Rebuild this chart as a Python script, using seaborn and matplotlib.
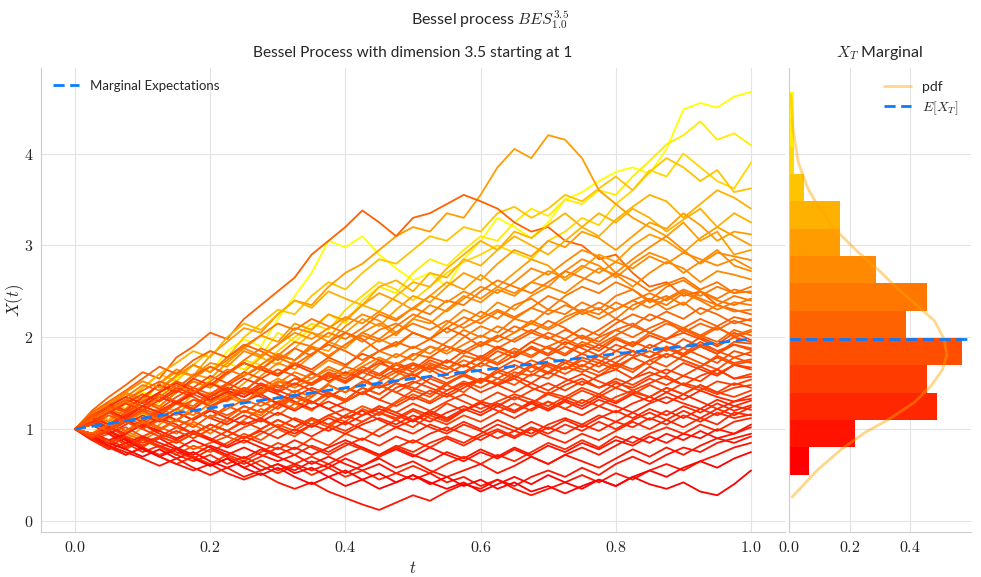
import numpy as np
import pandas as pd
import matplotlib
matplotlib.use("Agg")
import matplotlib.pyplot as plt
from matplotlib.ticker import FuncFormatter
import seaborn as sns

# time grid of the sampled paths (41 steps on [0, 1])
times = np.linspace(0.0, 1.0, 41)

# path values (each row = one path at the 41 times)
path_values = [
    [1.00, 1.12, 1.05, 1.28, 1.40, 1.35, 1.55, 1.70, 1.62, 1.85, 1.98, 1.90, 2.20, 2.45, 2.70, 3.05, 2.98, 3.10, 2.90, 2.75, 2.62, 2.70, 2.55, 2.85, 3.05, 3.30, 3.20, 3.08, 3.25, 3.50, 3.58, 3.70, 3.80, 3.85, 3.78, 4.05, 4.48, 4.55, 4.50, 4.62, 4.67],
    [1.00, 0.95, 1.10, 1.22, 1.15, 1.30, 1.45, 1.38, 1.55, 1.72, 1.65, 1.80, 2.05, 1.95, 2.10, 2.25, 2.15, 2.40, 2.55, 2.48, 2.70, 2.85, 2.78, 2.95, 3.10, 3.05, 3.25, 3.40, 3.32, 3.50, 3.45, 3.60, 3.55, 3.75, 3.92, 4.10, 4.20, 4.35, 4.15, 4.22, 4.09],
    [1.00, 1.08, 0.98, 1.15, 1.30, 1.25, 1.40, 1.52, 1.45, 1.60, 1.75, 1.70, 1.85, 2.00, 2.15, 2.08, 2.30, 2.45, 2.60, 2.52, 2.40, 2.55, 2.70, 2.82, 2.90, 3.00, 2.92, 2.85, 3.05, 3.15, 3.30, 3.22, 3.45, 3.60, 3.82, 3.75, 4.00, 3.85, 3.70, 3.62, 3.90],
    [1.00, 1.15, 1.30, 1.22, 1.45, 1.60, 1.52, 1.70, 1.85, 1.78, 2.00, 2.15, 2.30, 2.25, 2.45, 2.60, 2.52, 2.70, 2.85, 2.80, 2.95, 3.10, 3.05, 3.20, 3.15, 3.35, 3.42, 3.30, 3.40, 3.55, 3.48, 3.62, 3.75, 3.60, 3.80, 3.95, 3.85, 3.70, 3.82, 3.58, 3.62],
    [1.00, 1.10, 1.25, 1.38, 1.30, 1.50, 1.62, 1.58, 1.80, 1.95, 2.10, 2.05, 2.25, 2.40, 2.35, 2.55, 2.70, 2.80, 2.95, 3.10, 3.20, 3.15, 3.35, 3.30, 3.55, 3.85, 4.05, 3.95, 4.20, 4.15, 3.95, 3.60, 3.45, 3.30, 3.20, 3.10, 3.25, 3.05, 3.15, 2.90, 2.95],
    [1.00, 1.20, 1.35, 1.48, 1.62, 1.55, 1.78, 1.90, 2.05, 1.98, 2.20, 2.35, 2.50, 2.65, 2.90, 3.05, 3.20, 3.38, 3.25, 3.10, 3.30, 3.35, 3.45, 3.55, 3.48, 3.40, 3.25, 3.15, 3.20, 3.05, 3.00, 2.85, 2.90, 2.70, 2.55, 2.60, 2.45, 2.50, 2.35, 2.30, 2.25],
    [1.00, 0.92, 1.05, 1.18, 1.10, 1.25, 1.20, 1.38, 1.50, 1.45, 1.62, 1.78, 1.70, 1.88, 2.05, 2.00, 2.20, 2.35, 2.28, 2.45, 2.60, 2.55, 2.75, 2.90, 3.05, 2.95, 3.15, 3.08, 3.22, 3.35, 3.20, 3.10, 3.28, 3.42, 3.55, 3.48, 3.30, 3.45, 3.60, 3.52, 3.40],
    [1.00, 1.18, 1.10, 1.30, 1.45, 1.60, 1.72, 1.85, 1.78, 2.00, 2.15, 2.08, 2.25, 2.40, 2.32, 2.50, 2.42, 2.35, 2.55, 2.62, 2.50, 2.70, 2.65, 2.85, 2.78, 2.95, 3.10, 3.00, 2.90, 3.05, 3.20, 3.35, 3.25, 3.40, 3.30, 3.15, 3.28, 3.40, 3.20, 3.35, 3.25],
    [1.00, 1.05, 0.95, 0.88, 1.02, 1.15, 1.08, 1.25, 1.40, 1.35, 1.50, 1.65, 1.58, 1.75, 1.90, 1.85, 2.05, 2.20, 2.12, 2.30, 2.45, 2.38, 2.55, 2.70, 2.62, 2.80, 2.95, 2.88, 3.05, 2.98, 3.15, 3.08, 2.95, 3.10, 3.25, 3.18, 3.35, 3.22, 3.05, 3.15, 3.12],
    [1.00, 1.12, 1.28, 1.20, 1.35, 1.48, 1.42, 1.60, 1.55, 1.72, 1.88, 2.02, 1.95, 2.15, 2.08, 2.25, 2.18, 2.35, 2.48, 2.40, 2.30, 2.45, 2.60, 2.52, 2.68, 2.55, 2.70, 2.85, 2.78, 2.62, 2.75, 2.90, 2.82, 3.00, 3.12, 3.05, 2.92, 3.08, 3.20, 3.10, 3.00],
    [1.00, 0.90, 1.02, 0.95, 1.10, 1.22, 1.15, 1.32, 1.28, 1.45, 1.40, 1.58, 1.72, 1.65, 1.80, 1.95, 1.88, 2.05, 2.15, 2.02, 2.20, 2.35, 2.28, 2.42, 2.55, 2.48, 2.60, 2.75, 2.68, 2.82, 2.95, 2.88, 2.70, 2.85, 2.98, 3.10, 2.95, 2.80, 2.92, 2.88, 2.84],
    [1.00, 1.15, 1.25, 1.40, 1.32, 1.50, 1.65, 1.58, 1.72, 1.68, 1.85, 1.78, 1.92, 2.10, 2.05, 1.95, 2.12, 2.25, 2.18, 2.05, 2.20, 2.15, 2.30, 2.45, 2.38, 2.52, 2.45, 2.60, 2.55, 2.72, 2.85, 2.78, 2.65, 2.80, 2.92, 2.85, 2.70, 2.82, 2.95, 2.78, 2.72],
    [1.00, 0.95, 0.85, 0.98, 0.90, 1.05, 1.18, 1.10, 1.22, 1.35, 1.28, 1.45, 1.55, 1.48, 1.62, 1.75, 1.68, 1.85, 1.98, 1.90, 2.05, 1.98, 2.15, 2.30, 2.22, 2.38, 2.30, 2.45, 2.55, 2.48, 2.62, 2.75, 2.68, 2.55, 2.70, 2.82, 2.75, 2.60, 2.72, 2.68, 2.63],
    [1.00, 1.10, 1.22, 1.15, 1.30, 1.25, 1.40, 1.52, 1.45, 1.60, 1.72, 1.65, 1.80, 1.75, 1.92, 2.05, 1.98, 2.10, 2.25, 2.18, 2.32, 2.25, 2.40, 2.35, 2.50, 2.62, 2.55, 2.48, 2.60, 2.72, 2.65, 2.58, 2.70, 2.62, 2.50, 2.58, 2.65, 2.52, 2.60, 2.48, 2.55],
    [1.00, 0.92, 0.85, 0.95, 0.88, 0.98, 1.10, 1.05, 0.95, 1.08, 1.20, 1.15, 1.30, 1.42, 1.35, 1.50, 1.62, 1.55, 1.70, 1.82, 1.75, 1.90, 1.85, 2.00, 2.12, 2.05, 2.20, 2.15, 2.30, 2.25, 2.38, 2.30, 2.45, 2.52, 2.40, 2.55, 2.62, 2.50, 2.42, 2.52, 2.48],
    [1.00, 1.15, 1.08, 1.22, 1.35, 1.48, 1.40, 1.55, 1.68, 1.60, 1.75, 1.88, 1.80, 1.95, 1.90, 1.78, 1.92, 2.05, 1.98, 2.12, 2.25, 2.18, 2.05, 2.15, 2.28, 2.20, 2.35, 2.42, 2.30, 2.45, 2.55, 2.48, 2.60, 2.52, 2.38, 2.45, 2.35, 2.50, 2.40, 2.35, 2.42],
    [1.00, 1.05, 1.18, 1.10, 1.02, 1.15, 1.28, 1.22, 1.35, 1.30, 1.42, 1.38, 1.50, 1.62, 1.55, 1.68, 1.60, 1.72, 1.85, 1.78, 1.90, 1.82, 1.95, 2.08, 2.00, 2.12, 2.05, 2.18, 2.10, 2.22, 2.30, 2.25, 2.38, 2.30, 2.42, 2.35, 2.48, 2.40, 2.30, 2.38, 2.35],
    [1.00, 1.12, 1.25, 1.35, 1.48, 1.42, 1.58, 1.70, 1.62, 1.78, 1.90, 2.02, 2.15, 2.08, 2.20, 2.12, 2.05, 1.95, 2.08, 2.15, 2.05, 1.98, 2.10, 2.22, 2.15, 2.28, 2.20, 2.32, 2.45, 2.38, 2.25, 2.32, 2.20, 2.35, 2.42, 2.30, 2.38, 2.25, 2.35, 2.28, 2.30],
    [1.00, 0.90, 0.98, 0.88, 0.80, 0.92, 0.85, 0.95, 1.05, 0.98, 1.10, 1.22, 1.15, 1.28, 1.20, 1.35, 1.45, 1.38, 1.52, 1.62, 1.55, 1.70, 1.65, 1.80, 1.75, 1.88, 1.82, 1.95, 2.05, 1.98, 2.10, 2.02, 2.15, 2.25, 2.18, 2.28, 2.20, 2.32, 2.25, 2.15, 2.20],
    [1.00, 1.18, 1.30, 1.42, 1.55, 1.68, 1.60, 1.75, 1.85, 1.78, 1.92, 1.85, 1.75, 1.88, 1.80, 1.95, 2.05, 1.98, 1.85, 1.92, 2.05, 1.98, 2.10, 2.02, 1.90, 2.00, 2.12, 2.05, 2.18, 2.10, 1.98, 2.08, 2.20, 2.12, 2.25, 2.18, 2.05, 2.15, 2.08, 2.18, 2.12],
    [1.00, 1.08, 1.00, 1.12, 1.25, 1.18, 1.30, 1.25, 1.38, 1.32, 1.45, 1.40, 1.52, 1.48, 1.60, 1.55, 1.68, 1.62, 1.75, 1.70, 1.82, 1.78, 1.90, 1.85, 1.95, 1.88, 1.98, 2.08, 2.00, 1.92, 2.02, 1.95, 2.08, 2.15, 2.05, 1.98, 2.10, 2.02, 2.12, 2.00, 2.06],
    [1.00, 0.95, 1.05, 0.98, 1.10, 1.02, 0.95, 1.08, 1.00, 1.12, 1.25, 1.18, 1.30, 1.22, 1.35, 1.48, 1.40, 1.52, 1.45, 1.58, 1.70, 1.62, 1.75, 1.68, 1.80, 1.72, 1.85, 1.78, 1.90, 1.82, 1.95, 1.88, 2.00, 1.92, 2.05, 1.98, 2.10, 2.02, 1.95, 2.08, 2.02],
    [1.00, 1.10, 1.20, 1.12, 1.05, 1.18, 1.28, 1.38, 1.30, 1.42, 1.35, 1.48, 1.42, 1.55, 1.50, 1.62, 1.55, 1.68, 1.60, 1.72, 1.65, 1.78, 1.72, 1.85, 1.78, 1.90, 1.82, 1.95, 1.88, 1.80, 1.92, 1.85, 1.98, 1.90, 2.02, 1.95, 1.88, 2.00, 1.92, 2.05, 1.97],
    [1.00, 0.88, 0.95, 0.82, 0.90, 0.80, 0.88, 0.78, 0.85, 0.92, 0.85, 0.95, 1.05, 0.98, 1.10, 1.02, 1.15, 1.25, 1.18, 1.30, 1.42, 1.35, 1.48, 1.40, 1.55, 1.50, 1.62, 1.58, 1.70, 1.65, 1.78, 1.72, 1.85, 1.80, 1.92, 1.85, 1.98, 1.90, 1.82, 1.95, 1.93],
    [1.00, 1.15, 1.05, 1.18, 1.30, 1.40, 1.52, 1.45, 1.58, 1.50, 1.62, 1.55, 1.45, 1.55, 1.48, 1.60, 1.52, 1.65, 1.58, 1.70, 1.62, 1.75, 1.68, 1.60, 1.72, 1.85, 1.78, 1.90, 1.82, 1.95, 1.88, 1.80, 1.92, 1.85, 1.78, 1.90, 1.82, 1.95, 1.85, 1.92, 1.88],
    [1.00, 1.05, 0.95, 1.02, 0.92, 1.00, 1.10, 1.02, 1.15, 1.08, 1.20, 1.12, 1.25, 1.35, 1.28, 1.40, 1.32, 1.45, 1.38, 1.50, 1.42, 1.55, 1.48, 1.60, 1.52, 1.65, 1.58, 1.70, 1.62, 1.75, 1.68, 1.80, 1.72, 1.85, 1.78, 1.88, 1.80, 1.92, 1.85, 1.78, 1.84],
    [1.00, 1.12, 1.22, 1.32, 1.25, 1.38, 1.30, 1.42, 1.35, 1.48, 1.58, 1.68, 1.60, 1.72, 1.65, 1.78, 1.70, 1.82, 1.75, 1.62, 1.70, 1.65, 1.55, 1.62, 1.72, 1.65, 1.75, 1.68, 1.78, 1.72, 1.82, 1.75, 1.68, 1.78, 1.85, 1.78, 1.88, 1.80, 1.72, 1.85, 1.80],
    [1.00, 0.92, 0.85, 0.78, 0.88, 0.80, 0.72, 0.82, 0.75, 0.85, 0.95, 0.88, 1.00, 0.92, 1.05, 1.15, 1.08, 1.22, 1.15, 1.28, 1.38, 1.30, 1.42, 1.52, 1.45, 1.55, 1.48, 1.60, 1.55, 1.68, 1.62, 1.72, 1.65, 1.78, 1.70, 1.82, 1.75, 1.68, 1.80, 1.72, 1.76],
    [1.00, 1.08, 1.18, 1.10, 1.22, 1.15, 1.28, 1.20, 1.12, 1.25, 1.18, 1.30, 1.22, 1.35, 1.28, 1.40, 1.32, 1.45, 1.38, 1.50, 1.45, 1.38, 1.50, 1.58, 1.50, 1.62, 1.55, 1.68, 1.60, 1.72, 1.65, 1.58, 1.70, 1.62, 1.75, 1.68, 1.80, 1.72, 1.65, 1.78, 1.72],
    [1.00, 1.10, 1.02, 1.15, 1.08, 1.20, 1.30, 1.22, 1.35, 1.45, 1.38, 1.50, 1.42, 1.35, 1.45, 1.38, 1.30, 1.40, 1.32, 1.45, 1.52, 1.45, 1.38, 1.48, 1.55, 1.48, 1.58, 1.50, 1.62, 1.55, 1.48, 1.58, 1.65, 1.55, 1.68, 1.60, 1.72, 1.65, 1.58, 1.70, 1.67],
    [1.00, 0.90, 0.82, 0.90, 0.80, 0.72, 0.80, 0.70, 0.62, 0.72, 0.65, 0.75, 0.85, 0.78, 0.90, 0.82, 0.95, 0.88, 1.00, 1.10, 1.02, 1.15, 1.08, 1.20, 1.30, 1.25, 1.35, 1.28, 1.40, 1.35, 1.45, 1.38, 1.50, 1.45, 1.55, 1.48, 1.58, 1.52, 1.65, 1.55, 1.60],
    [1.00, 1.15, 1.28, 1.20, 1.35, 1.48, 1.40, 1.55, 1.48, 1.62, 1.72, 1.65, 1.58, 1.70, 1.62, 1.52, 1.62, 1.55, 1.45, 1.52, 1.60, 1.50, 1.42, 1.50, 1.40, 1.48, 1.55, 1.45, 1.38, 1.48, 1.55, 1.45, 1.52, 1.42, 1.50, 1.58, 1.48, 1.42, 1.52, 1.48, 1.54],
    [1.00, 0.95, 1.02, 0.92, 0.85, 0.92, 0.85, 0.95, 0.88, 0.98, 1.08, 1.00, 1.10, 1.02, 1.12, 1.05, 1.15, 1.08, 1.18, 1.12, 1.22, 1.15, 1.28, 1.20, 1.30, 1.25, 1.35, 1.28, 1.38, 1.32, 1.42, 1.35, 1.45, 1.38, 1.48, 1.40, 1.50, 1.45, 1.38, 1.45, 1.48],
    [1.00, 1.08, 1.18, 1.28, 1.38, 1.30, 1.42, 1.35, 1.25, 1.32, 1.42, 1.35, 1.28, 1.38, 1.30, 1.22, 1.30, 1.40, 1.32, 1.25, 1.35, 1.28, 1.38, 1.30, 1.22, 1.30, 1.38, 1.32, 1.25, 1.35, 1.28, 1.38, 1.30, 1.40, 1.35, 1.45, 1.38, 1.48, 1.40, 1.35, 1.42],
    [1.00, 0.92, 1.00, 1.10, 1.02, 1.12, 1.05, 0.95, 1.05, 0.98, 0.90, 0.98, 0.90, 1.00, 0.92, 1.02, 0.95, 1.05, 1.12, 1.05, 1.15, 1.08, 1.18, 1.25, 1.18, 1.28, 1.20, 1.30, 1.22, 1.32, 1.25, 1.35, 1.28, 1.38, 1.30, 1.40, 1.32, 1.42, 1.35, 1.30, 1.37],
    [1.00, 1.10, 1.20, 1.12, 1.25, 1.35, 1.28, 1.40, 1.50, 1.42, 1.35, 1.45, 1.38, 1.30, 1.22, 1.30, 1.22, 1.15, 1.25, 1.18, 1.10, 1.20, 1.12, 1.22, 1.15, 1.25, 1.18, 1.28, 1.20, 1.30, 1.22, 1.32, 1.25, 1.18, 1.28, 1.35, 1.28, 1.22, 1.32, 1.25, 1.31],
    [1.00, 0.90, 0.80, 0.72, 0.80, 0.70, 0.62, 0.70, 0.60, 0.68, 0.58, 0.66, 0.55, 0.62, 0.70, 0.62, 0.72, 0.80, 0.72, 0.82, 0.75, 0.85, 0.92, 0.85, 0.95, 1.05, 0.98, 1.08, 1.00, 1.10, 1.02, 1.12, 1.20, 1.12, 1.22, 1.15, 1.25, 1.18, 1.28, 1.20, 1.26],
    [1.00, 1.05, 0.95, 1.05, 1.15, 1.08, 1.18, 1.10, 1.20, 1.12, 1.05, 1.12, 1.02, 0.95, 1.05, 0.98, 1.08, 1.00, 0.92, 1.02, 0.95, 1.05, 0.98, 1.08, 1.00, 1.10, 1.02, 0.95, 1.05, 1.12, 1.05, 1.15, 1.08, 1.18, 1.10, 1.20, 1.12, 1.22, 1.15, 1.25, 1.21],
    [1.00, 1.12, 1.25, 1.35, 1.28, 1.40, 1.50, 1.42, 1.32, 1.40, 1.30, 1.38, 1.28, 1.20, 1.30, 1.22, 1.12, 1.20, 1.10, 1.02, 1.10, 1.02, 0.95, 1.05, 0.98, 0.90, 0.98, 0.92, 1.02, 0.95, 1.05, 0.98, 1.08, 1.02, 1.12, 1.05, 1.15, 1.08, 1.18, 1.12, 1.16],
    [1.00, 0.88, 0.78, 0.85, 0.75, 0.82, 0.72, 0.65, 0.72, 0.62, 0.70, 0.60, 0.52, 0.60, 0.50, 0.58, 0.48, 0.55, 0.45, 0.52, 0.60, 0.52, 0.62, 0.70, 0.62, 0.72, 0.65, 0.75, 0.85, 0.78, 0.88, 0.80, 0.92, 0.85, 0.95, 1.02, 0.95, 1.05, 0.98, 1.08, 1.12],
    [1.00, 0.95, 0.88, 0.95, 1.05, 0.98, 0.90, 0.98, 0.88, 0.80, 0.88, 0.80, 0.72, 0.80, 0.72, 0.80, 0.88, 0.80, 0.72, 0.80, 0.72, 0.65, 0.75, 0.68, 0.78, 0.70, 0.80, 0.72, 0.82, 0.75, 0.85, 0.78, 0.88, 0.82, 0.92, 0.85, 0.95, 0.90, 1.00, 0.95, 1.05],
    [1.00, 0.90, 0.82, 0.72, 0.80, 0.70, 0.62, 0.55, 0.62, 0.52, 0.45, 0.52, 0.42, 0.35, 0.42, 0.32, 0.25, 0.18, 0.12, 0.20, 0.28, 0.22, 0.32, 0.40, 0.35, 0.45, 0.38, 0.48, 0.55, 0.48, 0.58, 0.50, 0.62, 0.70, 0.62, 0.72, 0.80, 0.75, 0.85, 0.90, 0.95],
    [1.00, 1.05, 0.95, 0.85, 0.92, 0.85, 0.78, 0.88, 0.80, 0.72, 0.80, 0.72, 0.65, 0.72, 0.62, 0.70, 0.62, 0.55, 0.62, 0.52, 0.45, 0.52, 0.42, 0.48, 0.38, 0.45, 0.35, 0.28, 0.35, 0.42, 0.50, 0.42, 0.52, 0.45, 0.55, 0.62, 0.55, 0.65, 0.72, 0.80, 0.85],
    [1.00, 0.92, 0.85, 0.78, 0.70, 0.78, 0.68, 0.75, 0.65, 0.58, 0.65, 0.55, 0.62, 0.52, 0.58, 0.48, 0.55, 0.45, 0.52, 0.42, 0.50, 0.40, 0.48, 0.38, 0.45, 0.35, 0.42, 0.32, 0.38, 0.30, 0.38, 0.45, 0.38, 0.48, 0.40, 0.35, 0.42, 0.32, 0.28, 0.40, 0.55],
    [1.00, 0.90, 0.98, 0.88, 0.78, 0.70, 0.78, 0.68, 0.60, 0.68, 0.58, 0.50, 0.58, 0.48, 0.40, 0.48, 0.38, 0.45, 0.35, 0.42, 0.50, 0.42, 0.35, 0.42, 0.32, 0.40, 0.48, 0.40, 0.50, 0.42, 0.35, 0.45, 0.38, 0.48, 0.55, 0.48, 0.58, 0.65, 0.58, 0.68, 0.75],
    [1.00, 1.08, 0.98, 0.90, 0.82, 0.90, 0.80, 0.72, 0.82, 0.75, 0.68, 0.78, 0.70, 0.62, 0.55, 0.62, 0.52, 0.60, 0.68, 0.58, 0.65, 0.55, 0.48, 0.55, 0.62, 0.52, 0.60, 0.70, 0.62, 0.72, 0.65, 0.58, 0.68, 0.78, 0.70, 0.80, 0.72, 0.82, 0.90, 0.85, 0.92],
    [1.00, 1.15, 1.28, 1.40, 1.52, 1.45, 1.58, 1.70, 1.62, 1.75, 1.88, 1.80, 1.92, 2.05, 1.98, 2.10, 2.22, 2.15, 2.28, 2.20, 2.32, 2.45, 2.38, 2.50, 2.42, 2.55, 2.48, 2.60, 2.72, 2.65, 2.78, 2.70, 2.82, 2.75, 2.88, 2.80, 2.92, 2.85, 2.78, 2.85, 2.75],
    [1.00, 0.92, 0.82, 0.75, 0.68, 0.60, 0.68, 0.58, 0.50, 0.58, 0.48, 0.55, 0.62, 0.55, 0.65, 0.58, 0.68, 0.60, 0.70, 0.78, 0.70, 0.80, 0.72, 0.65, 0.75, 0.68, 0.78, 0.70, 0.62, 0.72, 0.80, 0.72, 0.82, 0.92, 0.85, 0.95, 0.88, 0.98, 0.90, 0.95, 1.02],
    [1.00, 1.10, 1.02, 0.95, 1.05, 0.95, 0.88, 0.98, 0.90, 0.82, 0.92, 0.85, 0.78, 0.88, 0.80, 0.72, 0.82, 0.90, 0.82, 0.92, 0.85, 0.95, 1.02, 0.95, 0.88, 0.98, 0.90, 1.00, 0.92, 0.85, 0.95, 0.88, 0.98, 1.08, 1.00, 1.10, 1.02, 1.12, 1.05, 1.18, 1.15],
    [1.00, 1.10, 1.20, 1.30, 1.22, 1.35, 1.48, 1.40, 1.52, 1.65, 1.58, 1.70, 1.82, 1.75, 1.88, 1.80, 1.92, 2.02, 1.95, 2.05, 2.15, 2.08, 2.18, 2.10, 2.20, 2.30, 2.22, 2.32, 2.25, 2.35, 2.28, 2.38, 2.30, 2.40, 2.48, 2.40, 2.50, 2.42, 2.35, 2.45, 2.40],
    [1.00, 0.95, 0.88, 0.80, 0.90, 0.82, 0.75, 0.68, 0.78, 0.70, 0.62, 0.70, 0.80, 0.72, 0.82, 0.75, 0.85, 0.78, 0.70, 0.80, 0.88, 0.80, 0.90, 0.82, 0.92, 1.00, 0.92, 1.02, 0.95, 1.05, 0.98, 1.08, 1.00, 1.10, 1.18, 1.10, 1.20, 1.12, 1.22, 1.15, 1.24],
    [1.00, 1.12, 1.05, 1.15, 1.25, 1.18, 1.10, 1.20, 1.12, 1.05, 1.15, 1.08, 1.18, 1.10, 1.02, 1.12, 1.05, 1.15, 1.22, 1.15, 1.08, 1.18, 1.10, 1.20, 1.28, 1.20, 1.12, 1.22, 1.30, 1.22, 1.15, 1.25, 1.18, 1.28, 1.35, 1.28, 1.38, 1.30, 1.22, 1.30, 1.33],
    [1.00, 1.05, 0.98, 1.08, 1.18, 1.10, 1.22, 1.15, 1.28, 1.38, 1.30, 1.42, 1.52, 1.45, 1.55, 1.65, 1.58, 1.68, 1.78, 1.70, 1.80, 1.90, 1.82, 1.92, 2.02, 1.95, 2.05, 2.15, 2.08, 2.18, 2.28, 2.20, 2.30, 2.40, 2.32, 2.42, 2.52, 2.45, 2.55, 2.48, 2.50],
    [1.00, 0.90, 0.98, 1.08, 1.00, 0.92, 1.02, 0.95, 1.05, 0.98, 0.90, 1.00, 1.10, 1.02, 1.12, 1.05, 0.98, 1.08, 1.18, 1.10, 1.20, 1.12, 1.05, 1.15, 1.08, 1.18, 1.28, 1.20, 1.30, 1.22, 1.32, 1.25, 1.35, 1.42, 1.35, 1.45, 1.38, 1.48, 1.40, 1.50, 1.45],
    [1.00, 1.08, 1.18, 1.28, 1.20, 1.32, 1.45, 1.38, 1.50, 1.42, 1.55, 1.48, 1.40, 1.50, 1.42, 1.35, 1.45, 1.38, 1.48, 1.40, 1.32, 1.42, 1.35, 1.45, 1.55, 1.48, 1.40, 1.50, 1.42, 1.52, 1.60, 1.52, 1.45, 1.55, 1.62, 1.55, 1.48, 1.58, 1.65, 1.55, 1.57],
    [1.00, 1.12, 1.22, 1.32, 1.42, 1.52, 1.45, 1.58, 1.68, 1.60, 1.72, 1.65, 1.78, 1.70, 1.82, 1.92, 1.85, 1.75, 1.85, 1.95, 1.88, 1.98, 1.90, 1.82, 1.92, 2.02, 1.95, 2.05, 1.98, 2.08, 2.00, 1.92, 2.02, 2.12, 2.05, 2.15, 2.08, 2.00, 2.10, 2.02, 2.08],
    [1.00, 0.95, 0.85, 0.92, 0.82, 0.90, 0.98, 0.90, 1.00, 0.92, 1.02, 1.10, 1.02, 1.12, 1.05, 1.15, 1.22, 1.15, 1.25, 1.18, 1.28, 1.20, 1.30, 1.38, 1.30, 1.40, 1.32, 1.42, 1.50, 1.42, 1.52, 1.45, 1.55, 1.48, 1.58, 1.65, 1.58, 1.68, 1.60, 1.70, 1.65],
    [1.00, 1.15, 1.25, 1.18, 1.30, 1.22, 1.35, 1.45, 1.38, 1.50, 1.42, 1.55, 1.65, 1.58, 1.48, 1.58, 1.50, 1.62, 1.72, 1.65, 1.58, 1.68, 1.60, 1.70, 1.62, 1.55, 1.65, 1.75, 1.68, 1.60, 1.70, 1.62, 1.72, 1.65, 1.75, 1.82, 1.75, 1.68, 1.78, 1.70, 1.74],
    [1.00, 0.95, 1.05, 0.98, 1.08, 1.00, 1.10, 1.20, 1.12, 1.22, 1.32, 1.25, 1.35, 1.28, 1.38, 1.48, 1.40, 1.50, 1.60, 1.52, 1.62, 1.72, 1.65, 1.75, 1.68, 1.78, 1.88, 1.80, 1.90, 1.98, 1.90, 2.00, 2.08, 2.00, 2.10, 2.18, 2.10, 2.20, 2.12, 2.22, 2.18],
    [1.00, 1.05, 1.15, 1.08, 1.00, 1.10, 1.02, 1.12, 1.22, 1.15, 1.25, 1.18, 1.28, 1.35, 1.28, 1.38, 1.30, 1.40, 1.48, 1.40, 1.50, 1.58, 1.50, 1.60, 1.52, 1.62, 1.70, 1.62, 1.72, 1.65, 1.75, 1.68, 1.78, 1.85, 1.78, 1.88, 1.80, 1.90, 1.82, 1.92, 1.86],
    [1.00, 0.92, 1.00, 1.10, 1.20, 1.12, 1.22, 1.32, 1.25, 1.35, 1.45, 1.38, 1.48, 1.40, 1.50, 1.60, 1.52, 1.62, 1.55, 1.65, 1.72, 1.65, 1.75, 1.68, 1.78, 1.70, 1.80, 1.88, 1.80, 1.90, 1.82, 1.92, 1.85, 1.95, 1.88, 1.98, 2.05, 1.98, 1.90, 2.00, 1.95],
]

# marginal expectation E[X(t)]
expect_times = [0.0, 0.1, 0.2, 0.3, 0.4, 0.5, 0.6, 0.7, 0.8, 0.9, 1.0]
expect_values = [1.00, 1.12, 1.23, 1.34, 1.45, 1.55, 1.64, 1.73, 1.82, 1.90, 1.98]

# histogram of X_T (density)
hist_edges = [0.504, 0.802, 1.099, 1.397, 1.694, 1.992, 2.289, 2.587, 2.884,
              3.182, 3.479, 3.777, 4.074, 4.372, 4.670]
hist_density = [0.067, 0.218, 0.487, 0.454, 0.571, 0.387, 0.454, 0.286,
                0.168, 0.168, 0.050, 0.017, 0.017, 0.017]

# pdf of X_T
pdf_x = [0.26, 0.37, 0.56, 0.78, 0.96, 1.10, 1.29, 1.47, 1.65, 1.81, 1.98,
         2.18, 2.34, 2.53, 2.74, 2.93, 3.18, 3.43, 3.62, 3.91, 4.27, 4.64]
pdf_y = [0.011, 0.042, 0.096, 0.173, 0.249, 0.326, 0.413, 0.468, 0.506, 0.520, 0.511,
         0.479, 0.424, 0.358, 0.293, 0.227, 0.151, 0.096, 0.063, 0.031, 0.014, 0.007]
expect_T = 1.98

sns.set_style("whitegrid", {"axes.edgecolor": "#cccccc", "grid.color": "#e3e3e3",
                            "axes.linewidth": 1.2})
plt.rcParams['font.family'] = ['Lato', 'DejaVu Sans']
plt.rcParams['mathtext.fontset'] = 'cm'

cmap = plt.colormaps['autumn']
n_bins = len(hist_density)
col = np.linspace(0, 1, n_bins)
blue = '#0a7dff'

fig = plt.figure(figsize=(9.81, 5.77), dpi=100)
ax1 = fig.add_axes([0.042, 0.078, 0.758, 0.804])
ax2 = fig.add_axes([0.804, 0.078, 0.186, 0.804], sharey=ax1)

# paths, coloured by the bin of their last value
for p in path_values:
    b = int(np.clip(np.digitize(p[-1], hist_edges) - 1, 0, n_bins - 1))
    ax1.plot(times, p, color=cmap(col[b]), lw=1.3)

df_exp = pd.DataFrame({"t": expect_times, "e": expect_values})
sns.lineplot(data=df_exp, x="t", y="e", ax=ax1, color=blue, lw=2,
             linestyle=(0, (4, 2)), label="Marginal Expectations", zorder=5)

ax1.set_xlim(-0.05, 1.05)
ax1.set_ylim(-0.12, 4.93)
ax1.set_xlabel("$t$", fontsize=12)
ax1.set_ylabel("$X(t)$", fontsize=12)
ax1.yaxis.set_label_coords(-0.021, 0.5)
ax1.set_title("Bessel Process with dimension 3.5 starting at 1", fontsize=11.2, pad=8)
ax1.set_xticks([0, 0.2, 0.4, 0.6, 0.8, 1.0])
ax1.set_yticks([0, 1, 2, 3, 4])
ax1.xaxis.set_major_formatter(FuncFormatter(lambda v, p: f"${v:.1f}$"))
ax1.yaxis.set_major_formatter(FuncFormatter(lambda v, p: f"${v:.0f}$"))
ax1.tick_params(labelsize=11.5, colors="#222222", pad=2)
ax1.legend(loc="upper left", frameon=False, fontsize=9.5, handlelength=2.0)
sns.despine(ax=ax1)

# marginal histogram
heights = np.diff(hist_edges)
ax2.barh(hist_edges[:-1], hist_density, height=heights, align="edge",
         color=[cmap(c) for c in col], linewidth=0)
df_pdf = pd.DataFrame({"x": pdf_x, "y": pdf_y})
sns.lineplot(data=df_pdf, x="y", y="x", ax=ax2, sort=False, orient="y",
             color="orange", lw=2, alpha=0.45, label="pdf")
ax2.axhline(expect_T, color=blue, lw=2, linestyle=(0, (4, 2)), label="$E[X_T]$")
ax2.set_xlim(0, 0.6)
ax2.set_xticks([0, 0.2, 0.4])
ax2.xaxis.set_major_formatter(FuncFormatter(lambda v, p: f"${v:.1f}$"))
ax2.tick_params(labelsize=11.5, colors="#222222", pad=2)
ax2.tick_params(axis="y", labelleft=False)
ax2.set_xlabel("")
ax2.set_ylabel("")
ax2.set_title("$X_T$ Marginal", fontsize=11.5, pad=8)
ax2.legend(loc="upper right", frameon=False, fontsize=10, handlelength=2.0)
sns.despine(ax=ax2)

fig.suptitle("Bessel process $BES^{3.5}_{1.0}$", fontsize=11.5, y=0.985)
fig.savefig("out.png", dpi=100)
